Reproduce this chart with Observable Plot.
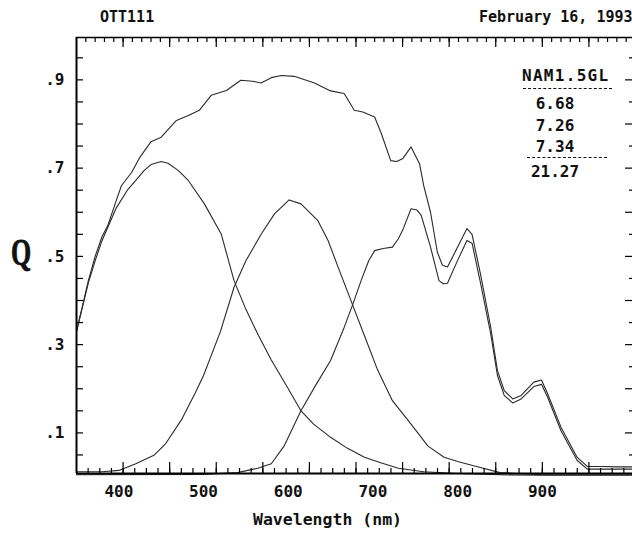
<!DOCTYPE html>
<html><head><meta charset="utf-8">
<script src="https://cdn.jsdelivr.net/npm/d3@7"></script>
<script src="https://cdn.jsdelivr.net/npm/@observablehq/plot@0.6"></script>
<style>
html,body{margin:0;padding:0;background:#fff;overflow:hidden;}
#wrap{position:relative;width:632px;height:533px;overflow:hidden;}
#wrap svg{position:absolute;left:0;top:0;max-width:none;}
.t{position:absolute;font-family:"DejaVu Sans Mono",monospace;font-weight:bold;font-size:15px;color:#111;white-space:nowrap;line-height:1;}
.dash{position:absolute;border-top:1.5px dashed #111;height:0;}
</style></head><body><div id="wrap"></div>
<script>
// ---- texts ----
const titleLeft = "OTT111";
const titleRight = "February 16, 1993";
const yLabel = "Q";
const xLabel = "Wavelength (nm)";
const xTickLabels = [400, 500, 600, 700, 800, 900];
const yTickLabels = [0.1, 0.3, 0.5, 0.7, 0.9];
const legendHeader = "NAM1.5GL";
const legendValues = ["6.68", "7.26", "7.34"];
const legendTotal = "21.27";

// ---- series (wavelength nm, Q) ----
const totalWl = [350,355,364,372,380,387,397,403,415,425,438,450,468,482,495,509,527,544,558,568,580,592,607,631,650,666,678,688,702,710,721,728,735,745,755,760,768,776,782,788,800,811,817,827,839,847,855,865,875,890,899,906,922,941,953,970,990,1010];
const totalQ  = [0.33,0.37,0.445,0.50,0.544,0.57,0.627,0.66,0.69,0.725,0.76,0.77,0.808,0.819,0.831,0.865,0.876,0.899,0.897,0.893,0.905,0.91,0.908,0.893,0.875,0.869,0.831,0.827,0.816,0.778,0.717,0.715,0.721,0.748,0.71,0.66,0.60,0.51,0.48,0.476,0.521,0.563,0.55,0.46,0.34,0.241,0.196,0.177,0.185,0.215,0.22,0.19,0.113,0.045,0.024,0.024,0.023,0.023];

const blueWl = [350,355,364,372,380,397,410,419,430,438,450,458,470,482,501,521,536,550,565,580,600,615,630,650,670,690,710,730,760,800,850,900,950,1010];
const blueQ  = [0.33,0.37,0.44,0.49,0.535,0.61,0.65,0.67,0.695,0.708,0.715,0.711,0.695,0.672,0.619,0.55,0.445,0.38,0.32,0.265,0.2,0.15,0.12,0.09,0.065,0.045,0.032,0.02,0.012,0.008,0.005,0.004,0.004,0.004];

const greenWl = [350,380,400,420,442,455,474,490,500,520,536,550,568,584,601,615,635,647,660,676,690,705,723,745,765,784,800,820,850,900,950,1010];
const greenQ  = [0.012,0.012,0.015,0.03,0.05,0.075,0.13,0.19,0.23,0.33,0.43,0.49,0.55,0.597,0.628,0.619,0.581,0.536,0.47,0.39,0.32,0.245,0.173,0.12,0.07,0.045,0.035,0.025,0.01,0.005,0.005,0.005];

const redWl = [350,500,540,564,580,595,615,633,650,666,676,686,695,702,712,723,730,735,745,752,757,768,778,783,788,800,811,817,827,839,847,855,865,875,890,899,906,922,941,953,970,1010];
const redQ  = [0.005,0.006,0.01,0.02,0.03,0.07,0.15,0.21,0.264,0.339,0.39,0.445,0.49,0.513,0.518,0.521,0.54,0.559,0.608,0.605,0.593,0.521,0.445,0.438,0.439,0.491,0.536,0.53,0.44,0.325,0.23,0.185,0.168,0.177,0.205,0.21,0.182,0.105,0.038,0.018,0.018,0.018];

const toRows = (wl, q) => wl.map((w, i) => ({wl: w, q: q[i]}));
const series = [toRows(totalWl, totalQ), toRows(blueWl, blueQ), toRows(greenWl, greenQ), toRows(redWl, redQ)];

// ---- frame ticks (generic ruler ticks of the frame) ----
const xDomain = [350, 1010];
const yDomain = [0.008, 0.996];
const frameMajor = d3.range(405, 1000, 55);
const frameTopMinor = d3.range(361, 1010, 11);
const frameBottomMinor = d3.range(363.75, 1010, 13.75);
const frameY = d3.range(0.05, 0.99, 0.05);

const W = 640, H = 533, mL = 76, mR = 5, mT = 37, mB = 60;
const pxX = (W - mL - mR) / (xDomain[1] - xDomain[0]);   // pixels per nm
const pxY = (H - mT - mB) / (yDomain[1] - yDomain[0]);   // pixels per unit Q
const lenX = px => px / pxX, lenY = px => px / pxY;

const tickStyle = {stroke: "#000", strokeWidth: 1.2};
const chart = Plot.plot({
  width: W,
  height: H,
  marginLeft: mL,
  marginRight: mR,
  marginTop: mT,
  marginBottom: mB,
  style: {fontFamily: "DejaVu Sans Mono, monospace", fontSize: "16px", fontWeight: "bold", color: "#111", background: "#fff", overflow: "visible"},
  x: {domain: xDomain, ticks: xTickLabels, tickSize: 0, tickPadding: 12, label: null, tickFormat: d => String(d)},
  y: {domain: yDomain, ticks: yTickLabels, tickSize: 0, tickPadding: 12, label: null, tickFormat: d => d3.format(".1f")(d).replace(/^0/, "")},
  marks: [
    ...series.map(s => Plot.line(s, {x: "wl", y: "q", stroke: "#2a2a2a", strokeWidth: 1.1, curve: "linear"})),
    Plot.ruleX(frameTopMinor, {x: d => d, y1: yDomain[1], y2: yDomain[1] - lenY(5), ...tickStyle}),
    Plot.ruleX(frameMajor, {x: d => d, y1: yDomain[1], y2: yDomain[1] - lenY(10), ...tickStyle}),
    Plot.ruleX(frameBottomMinor, {x: d => d, y1: yDomain[0], y2: yDomain[0] + lenY(5), ...tickStyle}),
    Plot.ruleX(frameMajor, {x: d => d, y1: yDomain[0], y2: yDomain[0] + lenY(11), ...tickStyle}),
    Plot.ruleY(frameY, {y: d => d, x1: xDomain[0], x2: xDomain[0] + lenX(7), ...tickStyle}),
    Plot.ruleY(frameY, {y: d => d, x1: xDomain[1], x2: (d, i) => xDomain[1] - lenX(i % 2 ? 10 : 6), ...tickStyle}),
    Plot.ruleY([yDomain[1]], {stroke: "#000", strokeWidth: 1.5}),
    Plot.ruleY([yDomain[0]], {stroke: "#000", strokeWidth: 2}),
    Plot.ruleX([xDomain[0], xDomain[1]], {stroke: "#000", strokeWidth: 2})
  ]
});
const wrap = document.getElementById("wrap");
wrap.appendChild(chart);

function addText(txt, left, top, extra) {
  const d = document.createElement("div");
  d.className = "t";
  d.textContent = txt;
  d.style.left = left + "px";
  d.style.top = top + "px";
  if (extra) Object.assign(d.style, extra);
  wrap.appendChild(d);
  return d;
}
function addDash(left, top, width) {
  const d = document.createElement("div");
  d.className = "dash";
  d.style.left = left + "px"; d.style.top = top + "px"; d.style.width = width + "px";
  wrap.appendChild(d);
}
addText(titleLeft, 100, 10, {fontSize: "15px"});
addText(titleRight, 479, 10, {fontSize: "15px"});
addText(yLabel, 11, 234, {fontFamily: "'Liberation Serif', serif", fontSize: "37px", transform: "scaleX(0.7)", transformOrigin: "left top", fontWeight: "900", WebkitTextStroke: "0.8px #111"});
addText(xLabel, 253, 512, {fontSize: "16.5px"});
addText(legendHeader, 522, 68, {fontSize: "16px", letterSpacing: "1.3px"});
addDash(523, 88, 89);
legendValues.forEach((v, i) => addText(v, 535, 96 + i * 21.5, {fontSize: "16px", width: "40px", textAlign: "center"}));
addDash(527, 157, 80);
addText(legendTotal, 530, 164, {fontSize: "16px", width: "50px", textAlign: "center"});
</script></body></html>
